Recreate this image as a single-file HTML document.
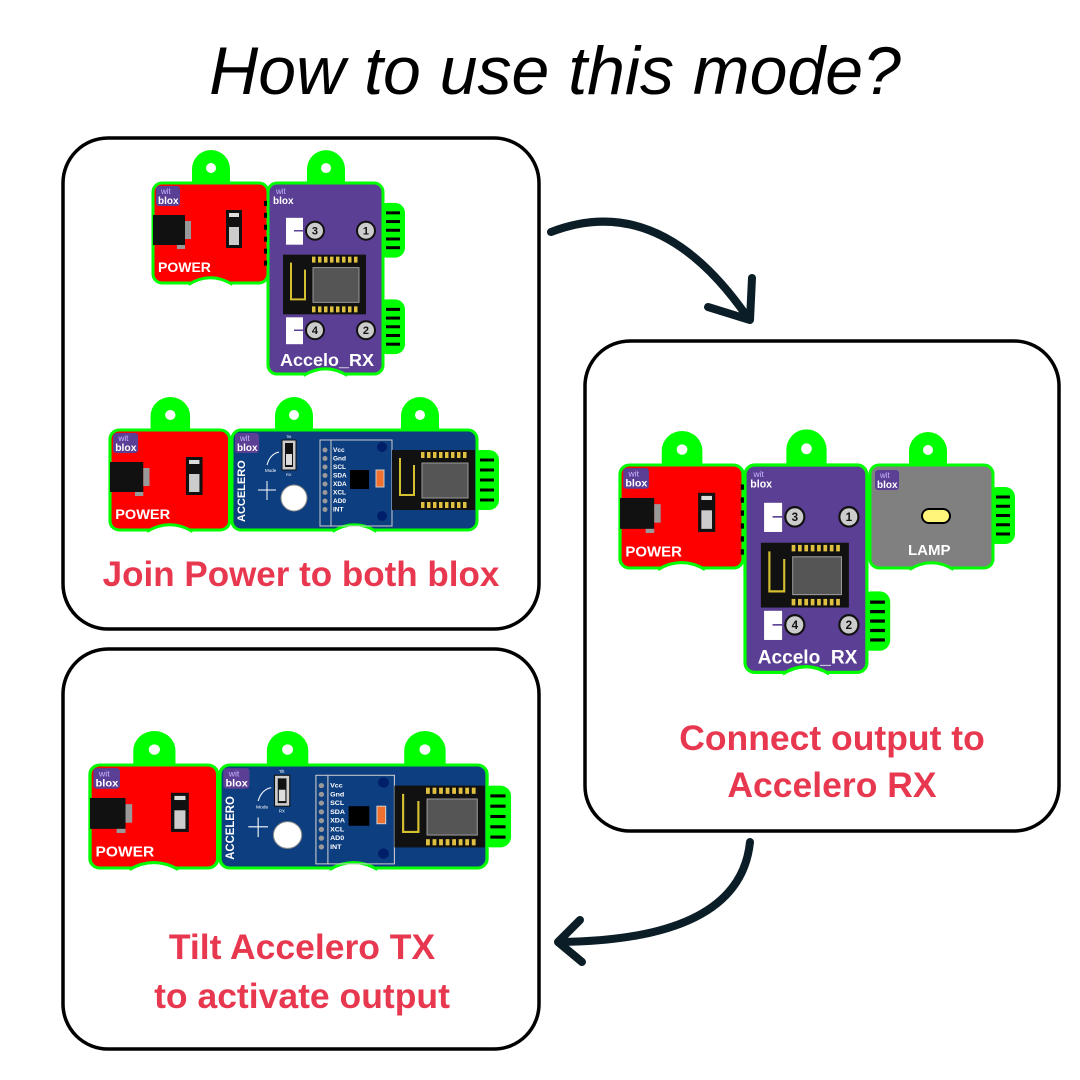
<!DOCTYPE html>
<html><head><meta charset="utf-8"><style>
html,body{margin:0;padding:0;background:#fff;}
svg{display:block}
</style></head><body>
<svg id="s" width="1080" height="1080" viewBox="0 0 1080 1080" xmlns="http://www.w3.org/2000/svg" font-family="Liberation Sans, sans-serif">
<rect width="1080" height="1080" fill="#fff"/>
<text x="555" y="94" text-anchor="middle" font-size="68" font-style="italic" fill="#000">How to use this mode?</text>
<rect x="63" y="138" width="476" height="491" rx="45" fill="#fff" stroke="#000" stroke-width="3.5"/>
<rect x="585" y="341" width="474" height="490" rx="45" fill="#fff" stroke="#000" stroke-width="3.5"/>
<rect x="63" y="649" width="476" height="400" rx="45" fill="#fff" stroke="#000" stroke-width="3.5"/>
<g fill="none" stroke="#0b1d26" stroke-width="8" stroke-linecap="round" stroke-linejoin="round">
<path d="M551 232 Q660 190 748 318"/>
<path d="M708 307 L750 320 L752 278"/>
<path d="M750 842 Q740 940 560 942"/>
<path d="M580 920 L558 942 L582 962"/>
</g>
<g font-weight="bold" fill="#e8384f" text-anchor="middle">
<text x="301" y="586" font-size="35">Join Power to both blox</text>
<text x="832" y="750" font-size="35.5">Connect output to</text>
<text x="832" y="797" font-size="35.5">Accelero RX</text>
<text x="302" y="959" font-size="35.5">Tilt Accelero TX</text>
<text x="302" y="1008" font-size="35.5">to activate output</text>
</g>
<g id="mods"></g>
</svg>
<script>
function tab(cx){return '<path d="M'+(cx-19)+' 2 L'+(cx-19)+' -14 A19 19 0 0 1 '+(cx+19)+' -14 L'+(cx+19)+' 2 Z" fill="#00ff00"/><circle cx="'+cx+'" cy="-15" r="5" fill="#fff"/>';}
function logo(x,y){return '<rect x="'+x+'" y="'+y+'" width="24" height="20" rx="3" fill="#5b3f94"/><text x="'+(x+5)+'" y="'+(y+8)+'" font-size="8" fill="#c9b8ff">wit</text><text x="'+(x+2)+'" y="'+(y+18)+'" font-size="10" font-weight="bold" fill="#fff">blox</text>';}
function body(w,h,c){return '<rect x="0" y="0" width="'+w+'" height="'+h+'" rx="9" fill="'+c+'" stroke="#00ff00" stroke-width="3"/><path d="M'+(w/2-22)+' '+(h+1.5)+' Q'+(w/2)+' '+(h-12)+' '+(w/2+22)+' '+(h+1.5)+'" fill="#fff" stroke="#00ff00" stroke-width="3"/>';}
function conn(x,y,h){var s='<rect x="'+(x-6)+'" y="'+y+'" width="28" height="'+h+'" rx="10" fill="#00ff00"/>';for(var i=0;i<5;i++){s+='<rect x="'+(x+3)+'" y="'+(y+10+i*(h-20)/4-1.5)+'" width="14" height="3" fill="#000"/>';}return s;}
function power(){var s=tab(58)+body(115,100,'#ff0000')+logo(3,3);
s+='<rect x="0" y="32" width="32" height="30" fill="#111"/><rect x="32" y="38" width="6" height="18" fill="#999"/><rect x="24" y="62" width="8" height="4" fill="#999"/>';
s+='<rect x="73" y="27" width="16" height="38" fill="#111"/><rect x="76" y="30" width="10" height="4" fill="#ddd"/><rect x="76" y="44" width="10" height="18" fill="#ccc"/>';
s+='<text x="5" y="89" font-size="14" font-weight="bold" fill="#fff">POWER</text>';return s;}
function num(x,y,n){return '<circle cx="'+x+'" cy="'+y+'" r="9" fill="#ccc" stroke="#111" stroke-width="2"/><text x="'+x+'" y="'+(y+4)+'" font-size="11" font-weight="bold" text-anchor="middle" fill="#111">'+n+'</text>';}
function esp(x,y){var s='<rect x="'+x+'" y="'+y+'" width="83" height="60" fill="#111"/><path d="M'+(x+8)+' '+(y+8)+' V'+(y+45)+' H'+(x+22)+' V'+(y+15)+'" fill="none" stroke="#d4c030" stroke-width="2"/><rect x="'+(x+30)+'" y="'+(y+13)+'" width="46" height="35" fill="#555" stroke="#999"/>';
for(var i=0;i<8;i++){s+='<rect x="'+(x+29+i*6)+'" y="'+(y+2)+'" width="3.5" height="6" fill="#e0c040"/><rect x="'+(x+29+i*6)+'" y="'+(y+52)+'" width="3.5" height="6" fill="#e0c040"/>';}
return s;}
function rx(){var s=tab(58)+conn(115,20,55)+conn(115,117,55)+body(115,192,'#5b3f94')+logo(3,3);
s+='<rect x="18" y="35" width="17" height="27" fill="#fff"/><line x1="26" y1="48" x2="37" y2="48" stroke="#5b3f94" stroke-width="1.5"/>'+num(47,48,3)+num(98,48,1);
s+=esp(15,72);
s+='<rect x="18" y="135" width="17" height="27" fill="#fff"/><line x1="26" y1="148" x2="37" y2="148" stroke="#5b3f94" stroke-width="1.5"/>'+num(47,148,4)+num(98,148,2);
s+='<text x="12" y="184" font-size="18" font-weight="bold" fill="#fff">Accelo_RX</text>';
for(var i=0;i<6;i++)s+='<rect x="-4" y="'+(18+i*12)+'" width="3" height="5" fill="#000"/>';return s;}
function acc(){var s=tab(62)+tab(188)+conn(245,20,60)+body(245,100,'#0d3e7f')+logo(3,3);
s+='<text transform="translate(13,92) rotate(-90)" font-size="11" font-weight="bold" fill="#fff">ACCELERO</text>';
s+='<text x="33" y="42" font-size="4.5" fill="#fff">Mode</text><path d="M35 35 Q38 24 47 22" fill="none" stroke="#fff" stroke-width="1"/>';
s+='<path d="M26 60 H44 M35 51 V70" stroke="#fff" stroke-width="1"/>';
s+='<rect x="50" y="10" width="14" height="30" fill="#ccc" stroke="#111"/><rect x="53" y="13" width="8" height="24" fill="#111"/><rect x="54" y="24" width="6" height="11" fill="#ddd"/><text x="54" y="8" font-size="4" fill="#fff">Tilt</text><text x="54" y="46" font-size="4" fill="#fff">RX</text>';
s+='<circle cx="62" cy="68" r="13" fill="#fff" stroke="#888"/>';
s+='<rect x="88" y="10" width="72" height="86" fill="none" stroke="#ccc"/><line x1="99" y1="10" x2="99" y2="96" stroke="#ccc"/>';
var L=['Vcc','Gnd','SCL','SDA','XDA','XCL','AD0','INT'];for(var i=0;i<8;i++){s+='<circle cx="93" cy="'+(20+i*8.5)+'" r="2.5" fill="#999"/><text x="101" y="'+(22+i*8.5)+'" font-size="6.5" font-weight="bold" fill="#fff">'+L[i]+'</text>';}
s+='<rect x="118" y="40" width="19" height="19" fill="#000"/><rect x="144" y="40" width="8" height="17" fill="#f07030" stroke="#ccc"/><circle cx="150" cy="17" r="5" fill="#001f6a"/><circle cx="150" cy="86" r="5" fill="#001f6a"/>';
s+=esp(160,20);
return s;}
function lamp(){var s=tab(58)+conn(123,22,57)+body(123,103,'#808080')+logo(5,5);
s+='<rect x="52" y="44" width="28" height="14" rx="7" fill="#fff57a" stroke="#000" stroke-width="2"/><text x="38" y="90" font-size="15" font-weight="bold" fill="#fff">LAMP</text>';return s;}
function g(x,y,sx,sy,c){return '<g transform="translate('+x+','+y+') scale('+sx+','+sy+')">'+c+'</g>';}
var m='';
m+=g(153,183,1,1,power());
m+=g(268,183,1,0.995,rx());
m+=g(110,430,1.04,1,power());
m+=g(232,430,1,1,acc());
m+=g(620,465,1.07,1.03,power());
m+=g(745,465,1.06,1.08,rx());
m+=g(870,465,1,1,lamp());
m+=g(90,765,1.11,1.03,power());
m+=g(220,765,1.09,1.03,acc());
document.getElementById('mods').innerHTML=m;
</script>
</body></html>
